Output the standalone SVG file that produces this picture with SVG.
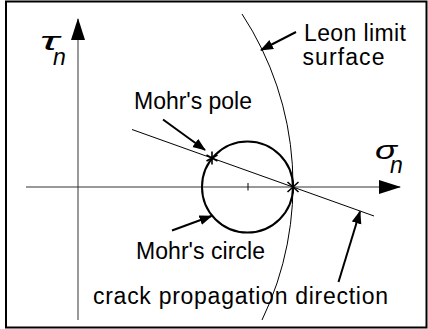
<svg xmlns="http://www.w3.org/2000/svg" width="428" height="329" viewBox="0 0 428 329">
<defs>
<marker id="ah" markerUnits="userSpaceOnUse" markerWidth="14" markerHeight="12" refX="12" refY="5" orient="auto">
<path d="M0,0 L13,5 L0,10 z" fill="#000"/>
</marker>
<marker id="axh" markerUnits="userSpaceOnUse" markerWidth="24" markerHeight="16" refX="21" refY="7" orient="auto">
<path d="M0,0 L22,7 L0,14 z" fill="#000"/>
</marker>
</defs>
<style>
.t{font-family:"Liberation Sans",Arial,sans-serif;font-size:23px;fill:#000}
.g{font-family:"Liberation Sans",Arial,sans-serif;font-size:23px;font-style:italic;fill:#000}
.gl{font-family:"Liberation Sans",Arial,sans-serif;font-size:26px;font-style:italic;fill:#000}
.ax{stroke:#333;stroke-width:1;fill:none}
.call{stroke:#000;stroke-width:2;fill:none}
.thin{stroke:#000;stroke-width:1;fill:none}
.star{stroke:#000;stroke-width:1.6;fill:none}
</style>
<rect x="0" y="0" width="428" height="329" fill="#fff"/>
<rect x="6" y="1.5" width="420.5" height="326" fill="none" stroke="#000" stroke-width="2"/>

<g id="axes">
<line class="ax" x1="78" y1="320" x2="78" y2="19" marker-end="url(#axh)"/>
<line class="ax" x1="26" y1="187" x2="400" y2="187" marker-end="url(#axh)"/>
<text class="gl" x="40" y="50" textLength="19" lengthAdjust="spacingAndGlyphs">τ</text>
<text class="g" x="53" y="65">n</text>
<text class="gl" x="375" y="159" textLength="22" lengthAdjust="spacingAndGlyphs">σ</text>
<text class="g" x="390" y="173">n</text>
</g>

<g id="leon-surface">
<path class="thin" d="M242,14 A311,311 0 0 1 262,320"/>
<text class="t" x="304" y="41" textLength="102">Leon limit</text>
<text class="t" x="302.5" y="65" textLength="82">surface</text>
</g>

<g id="mohr-circle">
<circle cx="247.5" cy="187" r="45.5" fill="none" stroke="#000" stroke-width="2"/>
<line class="thin" x1="248" y1="183" x2="248" y2="190.5"/>
<text class="t" x="136" y="259" textLength="129">Mohr's circle</text>
</g>

<g id="mohr-pole">
<path class="star" d="M212,151.5 V164.5 M206.5,155 L217.5,161 M206.5,161 L217.5,155"/>
<text class="t" x="134" y="109" textLength="118">Mohr's pole</text>
</g>

<g id="contact-point">
<path class="star" d="M293,180.5 V193.5 M287.5,182 L298.5,192 M287.5,192 L298.5,182"/>
</g>

<g id="crack-direction">
<line class="thin" x1="132" y1="129.5" x2="374" y2="216"/>
<text class="t" x="93" y="304" textLength="295">crack propagation direction</text>
</g>

<g id="connectors">
<line class="call" x1="296" y1="32" x2="261" y2="50" marker-end="url(#ah)"/>
<line class="call" x1="163" y1="119.5" x2="205" y2="150" marker-end="url(#ah)"/>
<line class="call" x1="172" y1="230.5" x2="211.5" y2="216" marker-end="url(#ah)"/>
<line class="call" x1="338.5" y1="282" x2="360" y2="211.5" marker-end="url(#ah)"/>
</g>
</svg>
